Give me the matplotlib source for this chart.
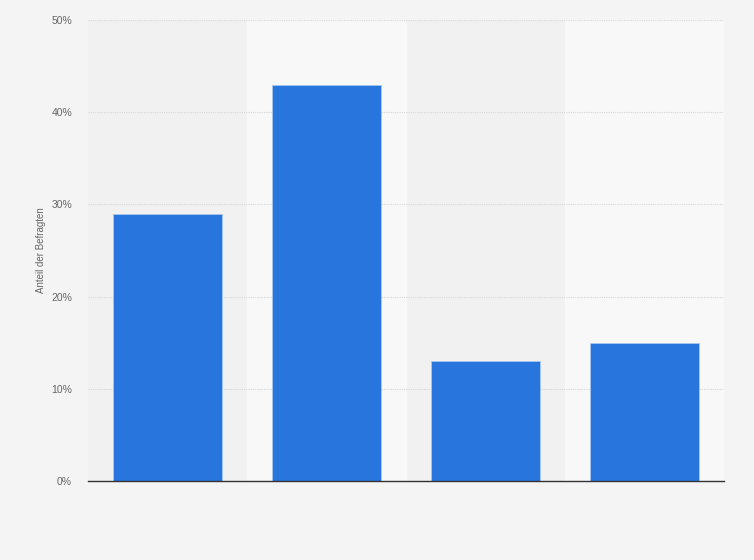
import numpy as np
import matplotlib.pyplot as plt

plt.rcParams['font.family'] = ['Liberation Sans', 'DejaVu Sans']

# Data
categories = ['A', 'B', 'C', 'D']
values = [29, 43, 13, 15]
yticks = [0, 10, 20, 30, 40, 50]

fig = plt.figure(figsize=(7.54, 5.6), dpi=100, facecolor='#f4f4f4')
ax = fig.add_axes([88 / 754, 79 / 560, 636 / 754, 461 / 560])
ax.set_facecolor('#f1f1f1')

x = np.arange(len(categories))

# alternating column bands
for i in x:
    if i % 2 == 1:
        ax.axvspan(i - 0.5, i + 0.5, color='#f8f8f8', zorder=0)

ax.bar(x, values, width=0.686, color='#2876dd', edgecolor='#a9c7ee', linewidth=0.6, zorder=3)

ax.set_xlim(-0.5, len(categories) - 0.5)
ax.set_ylim(0, 50)
ax.set_yticks(yticks)
ax.set_yticklabels([f'{t}%' for t in yticks], color='#666666', fontsize=7.5)
ax.set_xticks([])
ax.tick_params(axis='y', length=0, pad=11.5)

ax.grid(axis='y', color='#d6d6d6', linestyle=(0, (1, 1)), linewidth=0.8, zorder=1)
ax.set_axisbelow(True)

for side in ['top', 'right', 'left']:
    ax.spines[side].set_visible(False)
ax.spines['bottom'].set_color('#333333')
ax.spines['bottom'].set_linewidth(1.0)
ax.spines['bottom'].set_zorder(4)

ax.set_ylabel('Anteil der Befragten', color='#666666', fontsize=7, labelpad=3.5)

plt.savefig('out.png', dpi=100, facecolor=fig.get_facecolor())
